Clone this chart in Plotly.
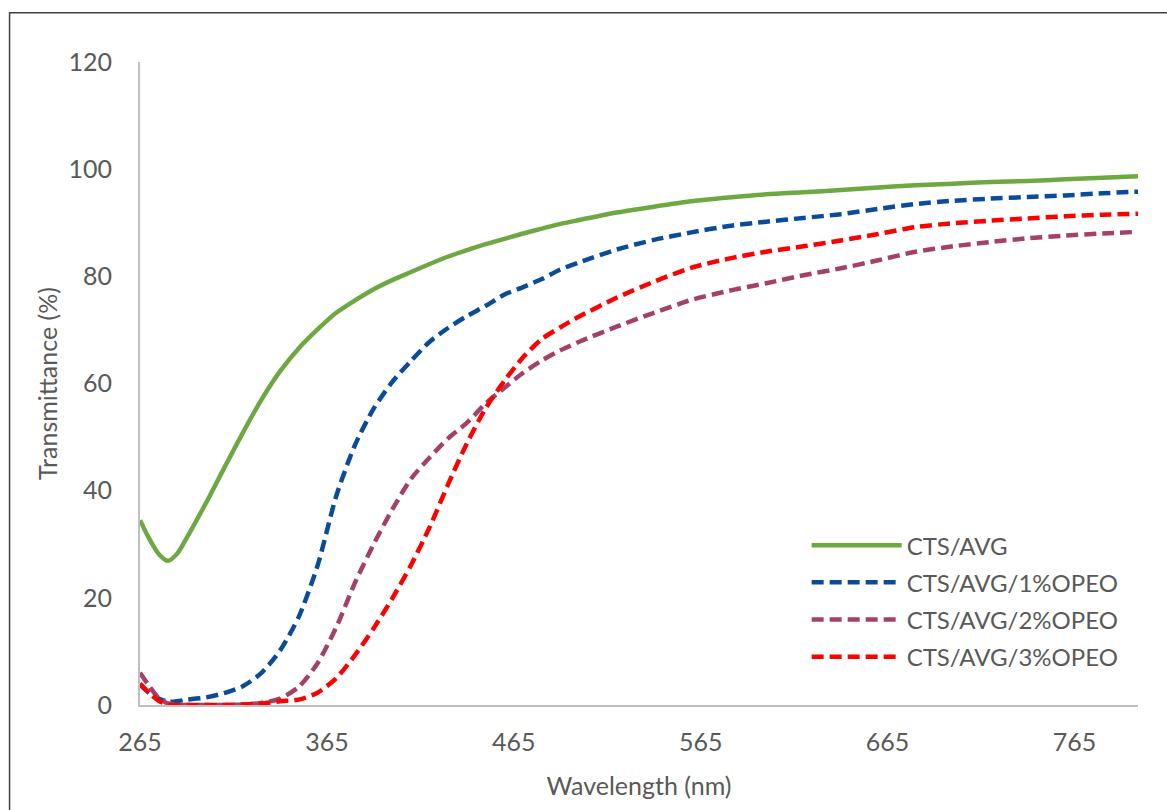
import plotly.graph_objects as go

wavelength = [265, 270, 275, 280, 285, 290, 300, 310, 320, 330, 340, 350, 360, 370, 380,
              390, 400, 410, 420, 430, 440, 450, 460, 470, 480, 490, 500, 520, 540, 560,
              580, 600, 620, 640, 660, 680, 700, 720, 740, 760, 780, 799]

cts_avg = [34.5, 31.0, 28.2, 26.9, 28.3, 31.2, 37.5, 44.2, 50.8, 57.0, 62.3, 66.6, 70.1,
           73.2, 75.5, 77.6, 79.3, 80.8, 82.3, 83.7, 84.9, 86.0, 87.0, 88.0, 88.9, 89.8,
           90.5, 91.9, 93.0, 94.0, 94.7, 95.3, 95.7, 96.1, 96.6, 97.0, 97.3, 97.6, 97.8,
           98.1, 98.4, 98.7]

opeo_1 = [3.8, 2.2, 1.2, 0.6, 0.7, 1.0, 1.4, 2.2, 3.5, 6.0, 10.2, 16.5, 26.0, 39.0, 48.5,
          55.3, 60.3, 64.2, 67.8, 70.4, 72.6, 74.5, 76.6, 78.0, 79.5, 81.3, 82.6, 85.0,
          86.8, 88.2, 89.4, 90.2, 90.9, 91.6, 92.6, 93.5, 94.1, 94.5, 94.8, 95.1, 95.5, 95.8]

opeo_2 = [6.0, 3.5, 1.3, 0.3, 0.1, 0.0, 0.0, 0.0, 0.1, 0.4, 1.2, 3.4, 7.8, 14.5, 22.8,
          30.0, 36.5, 42.2, 46.2, 49.8, 52.7, 56.3, 59.2, 62.0, 64.3, 66.2, 67.8, 70.6,
          73.2, 75.6, 77.3, 78.7, 80.2, 81.5, 83.0, 84.6, 85.6, 86.4, 87.1, 87.6, 88.0, 88.3]

opeo_3 = [4.0, 2.2, 0.8, 0.1, 0.0, 0.0, 0.0, 0.0, 0.1, 0.3, 0.7, 1.0, 2.3, 5.0, 9.3,
          14.3, 19.9, 26.1, 33.2, 41.3, 48.9, 55.4, 60.5, 64.9, 68.3, 70.5, 72.5, 76.0,
          79.0, 81.6, 83.3, 84.6, 85.6, 86.7, 87.9, 89.2, 89.9, 90.4, 90.8, 91.2, 91.5, 91.7]

series_names = ["CTS/AVG", "CTS/AVG/1%OPEO", "CTS/AVG/2%OPEO", "CTS/AVG/3%OPEO"]
series_values = [cts_avg, opeo_1, opeo_2, opeo_3]
colors = ["#6EA843", "#0B4C99", "#A3416A", "#FF0000"]
dashes = ["solid", "12px,6px", "12px,6px", "12px,6px"]

x_ticks = [265, 365, 465, 565, 665, 765]
y_ticks = [0, 20, 40, 60, 80, 100, 120]

FONT = "Lato"
GRAY = "#595959"

fig = go.Figure()
for i, (name, vals) in enumerate(zip(series_names, series_values)):
    fig.add_trace(go.Scatter(
        x=wavelength, y=vals, name=name, mode="lines",
        line=dict(color=colors[i], width=4.5, dash=dashes[i], shape="spline", smoothing=0.7),
        legendgroup=f"g{i}",
    ))

fig.update_layout(
    width=1167, height=810,
    margin=dict(l=140, r=29, t=62, b=105),
    plot_bgcolor="white", paper_bgcolor="white",
    font=dict(family=FONT, color=GRAY, size=25),
    showlegend=True,
    legend=dict(
        x=0.668, y=0.283, xanchor="left", yanchor="top",
        bgcolor="rgba(0,0,0,0)", itemwidth=90,
        font=dict(family=FONT, size=24, color=GRAY),
        tracegroupgap=3, traceorder="grouped",
    ),
    xaxis=dict(
        range=[265, 799], tickvals=x_ticks, ticktext=[str(v) for v in x_ticks],
        showgrid=False, zeroline=False, showline=True, linecolor="#BFBFBF", linewidth=2,
        ticks="", ticklabelstandoff=14,
        tickfont=dict(family=FONT, size=25, color=GRAY),
        title=dict(text="Wavelength (nm)", font=dict(family=FONT, size=25, color=GRAY), standoff=22),
    ),
    yaxis=dict(
        range=[0, 120], tickvals=y_ticks, ticktext=[str(v) for v in y_ticks],
        showgrid=False, zeroline=False, showline=True, linecolor="#BFBFBF", linewidth=2,
        ticks="", ticklabelstandoff=21,
        tickfont=dict(family=FONT, size=25, color=GRAY),
        title=dict(text="Transmittance (%)", font=dict(family=FONT, size=25, color=GRAY), standoff=4),
    ),
    shapes=[dict(
        type="rect", xref="paper", yref="paper",
        x0=-0.1307, x1=1.05, y0=-0.19, y1=1.0766,
        line=dict(color="#404040", width=1.5), fillcolor="rgba(0,0,0,0)", layer="below",
    )],
)

fig.write_html("out.html")
